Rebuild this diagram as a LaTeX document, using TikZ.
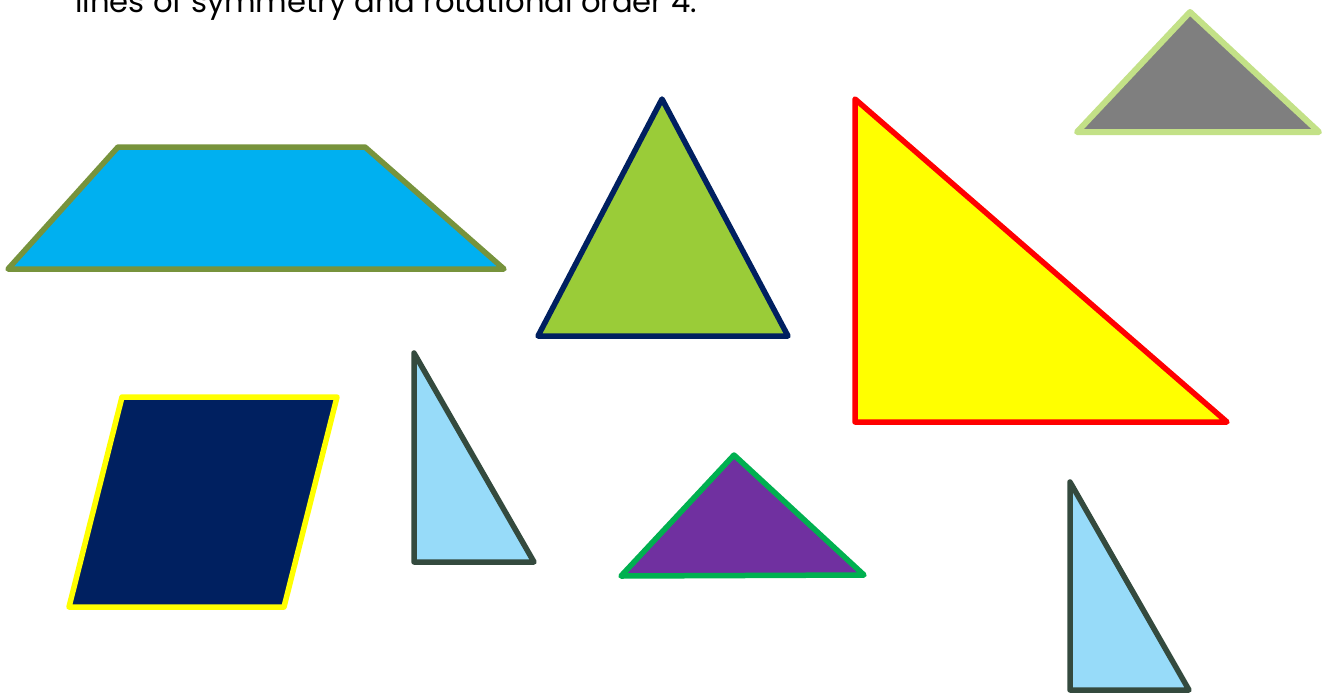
\documentclass[tikz,border=0pt]{standalone}
\usepackage{fontspec}
\setmainfont{Poppins}
\usepackage{graphicx}
\definecolor{trapfill}{RGB}{0,176,240}
\definecolor{trapline}{RGB}{119,147,60}
\definecolor{eqfill}{RGB}{154,204,56}
\definecolor{navy}{RGB}{0,32,96}
\definecolor{grayfill}{RGB}{127,127,127}
\definecolor{grayline}{RGB}{195,225,135}
\definecolor{ltblue}{RGB}{151,219,249}
\definecolor{darkline}{RGB}{52,74,62}
\definecolor{purplefill}{RGB}{112,48,160}
\definecolor{greenline}{RGB}{0,176,80}
\definecolor{pureyellow}{RGB}{255,255,0}
\definecolor{purered}{RGB}{255,0,0}
\tikzset{
  piece/.style={line width=5.5pt, line join=round, line cap=round},
  caption/.style={anchor=base west, inner sep=0pt, text=black}
}
\begin{document}
\begin{tikzpicture}[x=1pt,y=-1pt]
\useasboundingbox (0,0) rectangle (1322,694);
\clip (0,0) rectangle (1322,694);
\fill[white] (0,0) rectangle (1322,694);
% caption (cut at top)
\node[caption] (cap) at (75,12) {\resizebox{622pt}{!}{lines of symmetry and rotational order 4.}};
% trapezoid
\draw[piece, draw=trapline, fill=trapfill] (8,269) -- (118,147) -- (365,147) -- (504,269) -- cycle;
% equilateral triangle
\draw[piece, draw=navy, fill=eqfill] (662,99) -- (788,336) -- (538,336) -- cycle;
% right triangle yellow
\draw[piece, draw=purered, fill=pureyellow] (855,99) -- (1227,422) -- (855,422) -- cycle;
% gray triangle
\draw[piece, line width=6pt, draw=grayline, fill=grayfill] (1190,12) -- (1319,132) -- (1077,132) -- cycle;
% parallelogram
\draw[piece, draw=pureyellow, fill=navy] (122,397) -- (337,397) -- (284,607) -- (69,607) -- cycle;
% light blue triangle 1
\draw[piece, draw=darkline, fill=ltblue] (414,353) -- (534,562) -- (414,562) -- cycle;
% purple triangle
\draw[piece, draw=greenline, fill=purplefill] (734,455) -- (864,575) -- (621,576) -- cycle;
% light blue triangle 2
\draw[piece, draw=darkline, fill=ltblue] (1070,482) -- (1189,690) -- (1070,690) -- cycle;
\end{tikzpicture}
\end{document}
